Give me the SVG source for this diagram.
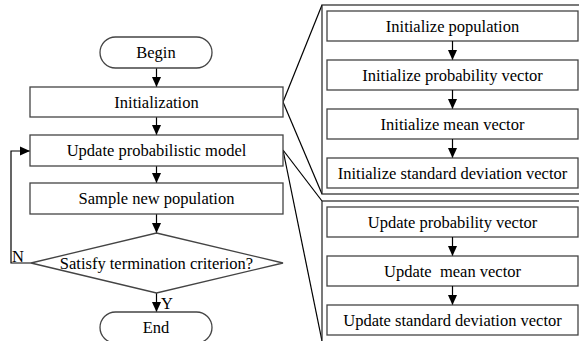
<svg xmlns="http://www.w3.org/2000/svg" width="579" height="341" viewBox="0 0 579 341">
<defs>
<marker id="ah" markerUnits="userSpaceOnUse" markerWidth="10" markerHeight="11" viewBox="0 0 11 10" refX="11" refY="5" orient="auto">
<path d="M0,0 L11,5 L0,10 z" fill="#000"/>
</marker>
<style>
.box{fill:#fff;stroke:#444;stroke-width:1.3}
.frame{fill:#fff;stroke:#222;stroke-width:1.2}
.t{font-family:"Liberation Serif","Times New Roman",serif;font-size:16.5px;fill:#000;text-anchor:middle}
.lbl{font-family:"Liberation Serif","Times New Roman",serif;font-size:16.5px;fill:#000}
.ln{fill:none;stroke:#000;stroke-width:1.2}
.ar{fill:none;stroke:#000;stroke-width:1.2;marker-end:url(#ah)}
</style>
</defs>
<rect width="579" height="341" fill="#fff"/>

<g id="connectors">
<line class="ln" x1="283" y1="102" x2="322" y2="5"/>
<line class="ln" x1="283" y1="102" x2="322" y2="194"/>
<line class="ln" x1="283" y1="150" x2="322" y2="201"/>
<line class="ln" x1="283" y1="150" x2="322" y2="341"/>
<line class="ar" x1="156.5" y1="68" x2="156.5" y2="87"/>
<line class="ar" x1="156.5" y1="117" x2="156.5" y2="135"/>
<line class="ar" x1="156.5" y1="166" x2="156.5" y2="183"/>
<line class="ar" x1="156.5" y1="214" x2="156.5" y2="233"/>
<line class="ar" x1="156.5" y1="293" x2="156.5" y2="312"/>
<polyline class="ar" points="31,263 11,263 11,151 30,151"/>
<text class="lbl" x="12" y="262">N</text>
<text class="lbl" x="161" y="309">Y</text>
</g>

<g id="begin">
<rect class="box" x="100" y="37" width="112" height="31" rx="15.5"/>
<text class="t" x="156" y="58">Begin</text>
</g>
<g id="initialization">
<rect class="box" x="30" y="87" width="253" height="30"/>
<text class="t" x="156.5" y="108">Initialization</text>
</g>
<g id="update-model">
<rect class="box" x="30" y="135" width="253" height="31"/>
<text class="t" x="156.5" y="156">Update probabilistic model</text>
</g>
<g id="sample">
<rect class="box" x="30" y="183" width="253" height="31"/>
<text class="t" x="156.5" y="204">Sample new population</text>
</g>
<g id="decision">
<polygon class="box" points="156.5,233 283,263 156.5,293 31,263"/>
<text class="t" x="156.5" y="269">Satisfy termination criterion?</text>
</g>
<g id="end">
<rect class="box" x="100" y="312" width="112" height="31" rx="15.5"/>
<text class="t" x="156" y="333">End</text>
</g>

<g id="init-panel">
<rect class="frame" x="322" y="5" width="270" height="189"/>
<g id="init-pop">
<rect class="box" x="327" y="11" width="251" height="30"/>
<text class="t" x="452.5" y="31.5">Initialize population</text>
</g>
<line class="ar" x1="452.5" y1="41" x2="452.5" y2="60"/>
<g id="init-prob">
<rect class="box" x="327" y="60" width="251" height="30"/>
<text class="t" x="452.5" y="80.5">Initialize probability vector</text>
</g>
<line class="ar" x1="452.5" y1="90" x2="452.5" y2="109"/>
<g id="init-mean">
<rect class="box" x="327" y="109" width="251" height="30"/>
<text class="t" x="452.5" y="129.5">Initialize mean vector</text>
</g>
<line class="ar" x1="452.5" y1="139" x2="452.5" y2="158"/>
<g id="init-std">
<rect class="box" x="327" y="158" width="251" height="30"/>
<text class="t" x="452.5" y="178.5">Initialize standard deviation vector</text>
</g>
</g>

<g id="update-panel">
<rect class="frame" x="322" y="201" width="270" height="150"/>
<g id="upd-prob">
<rect class="box" x="327" y="207" width="251" height="30"/>
<text class="t" x="452.5" y="227.5">Update probability vector</text>
</g>
<line class="ar" x1="452.5" y1="237" x2="452.5" y2="256"/>
<g id="upd-mean">
<rect class="box" x="327" y="256" width="251" height="30"/>
<text class="t" x="452.5" y="276.5" xml:space="preserve">Update  mean vector</text>
</g>
<line class="ar" x1="452.5" y1="286" x2="452.5" y2="305"/>
<g id="upd-std">
<rect class="box" x="327" y="305" width="251" height="30"/>
<text class="t" x="452.5" y="325.5">Update standard deviation vector</text>
</g>
</g>
</svg>
